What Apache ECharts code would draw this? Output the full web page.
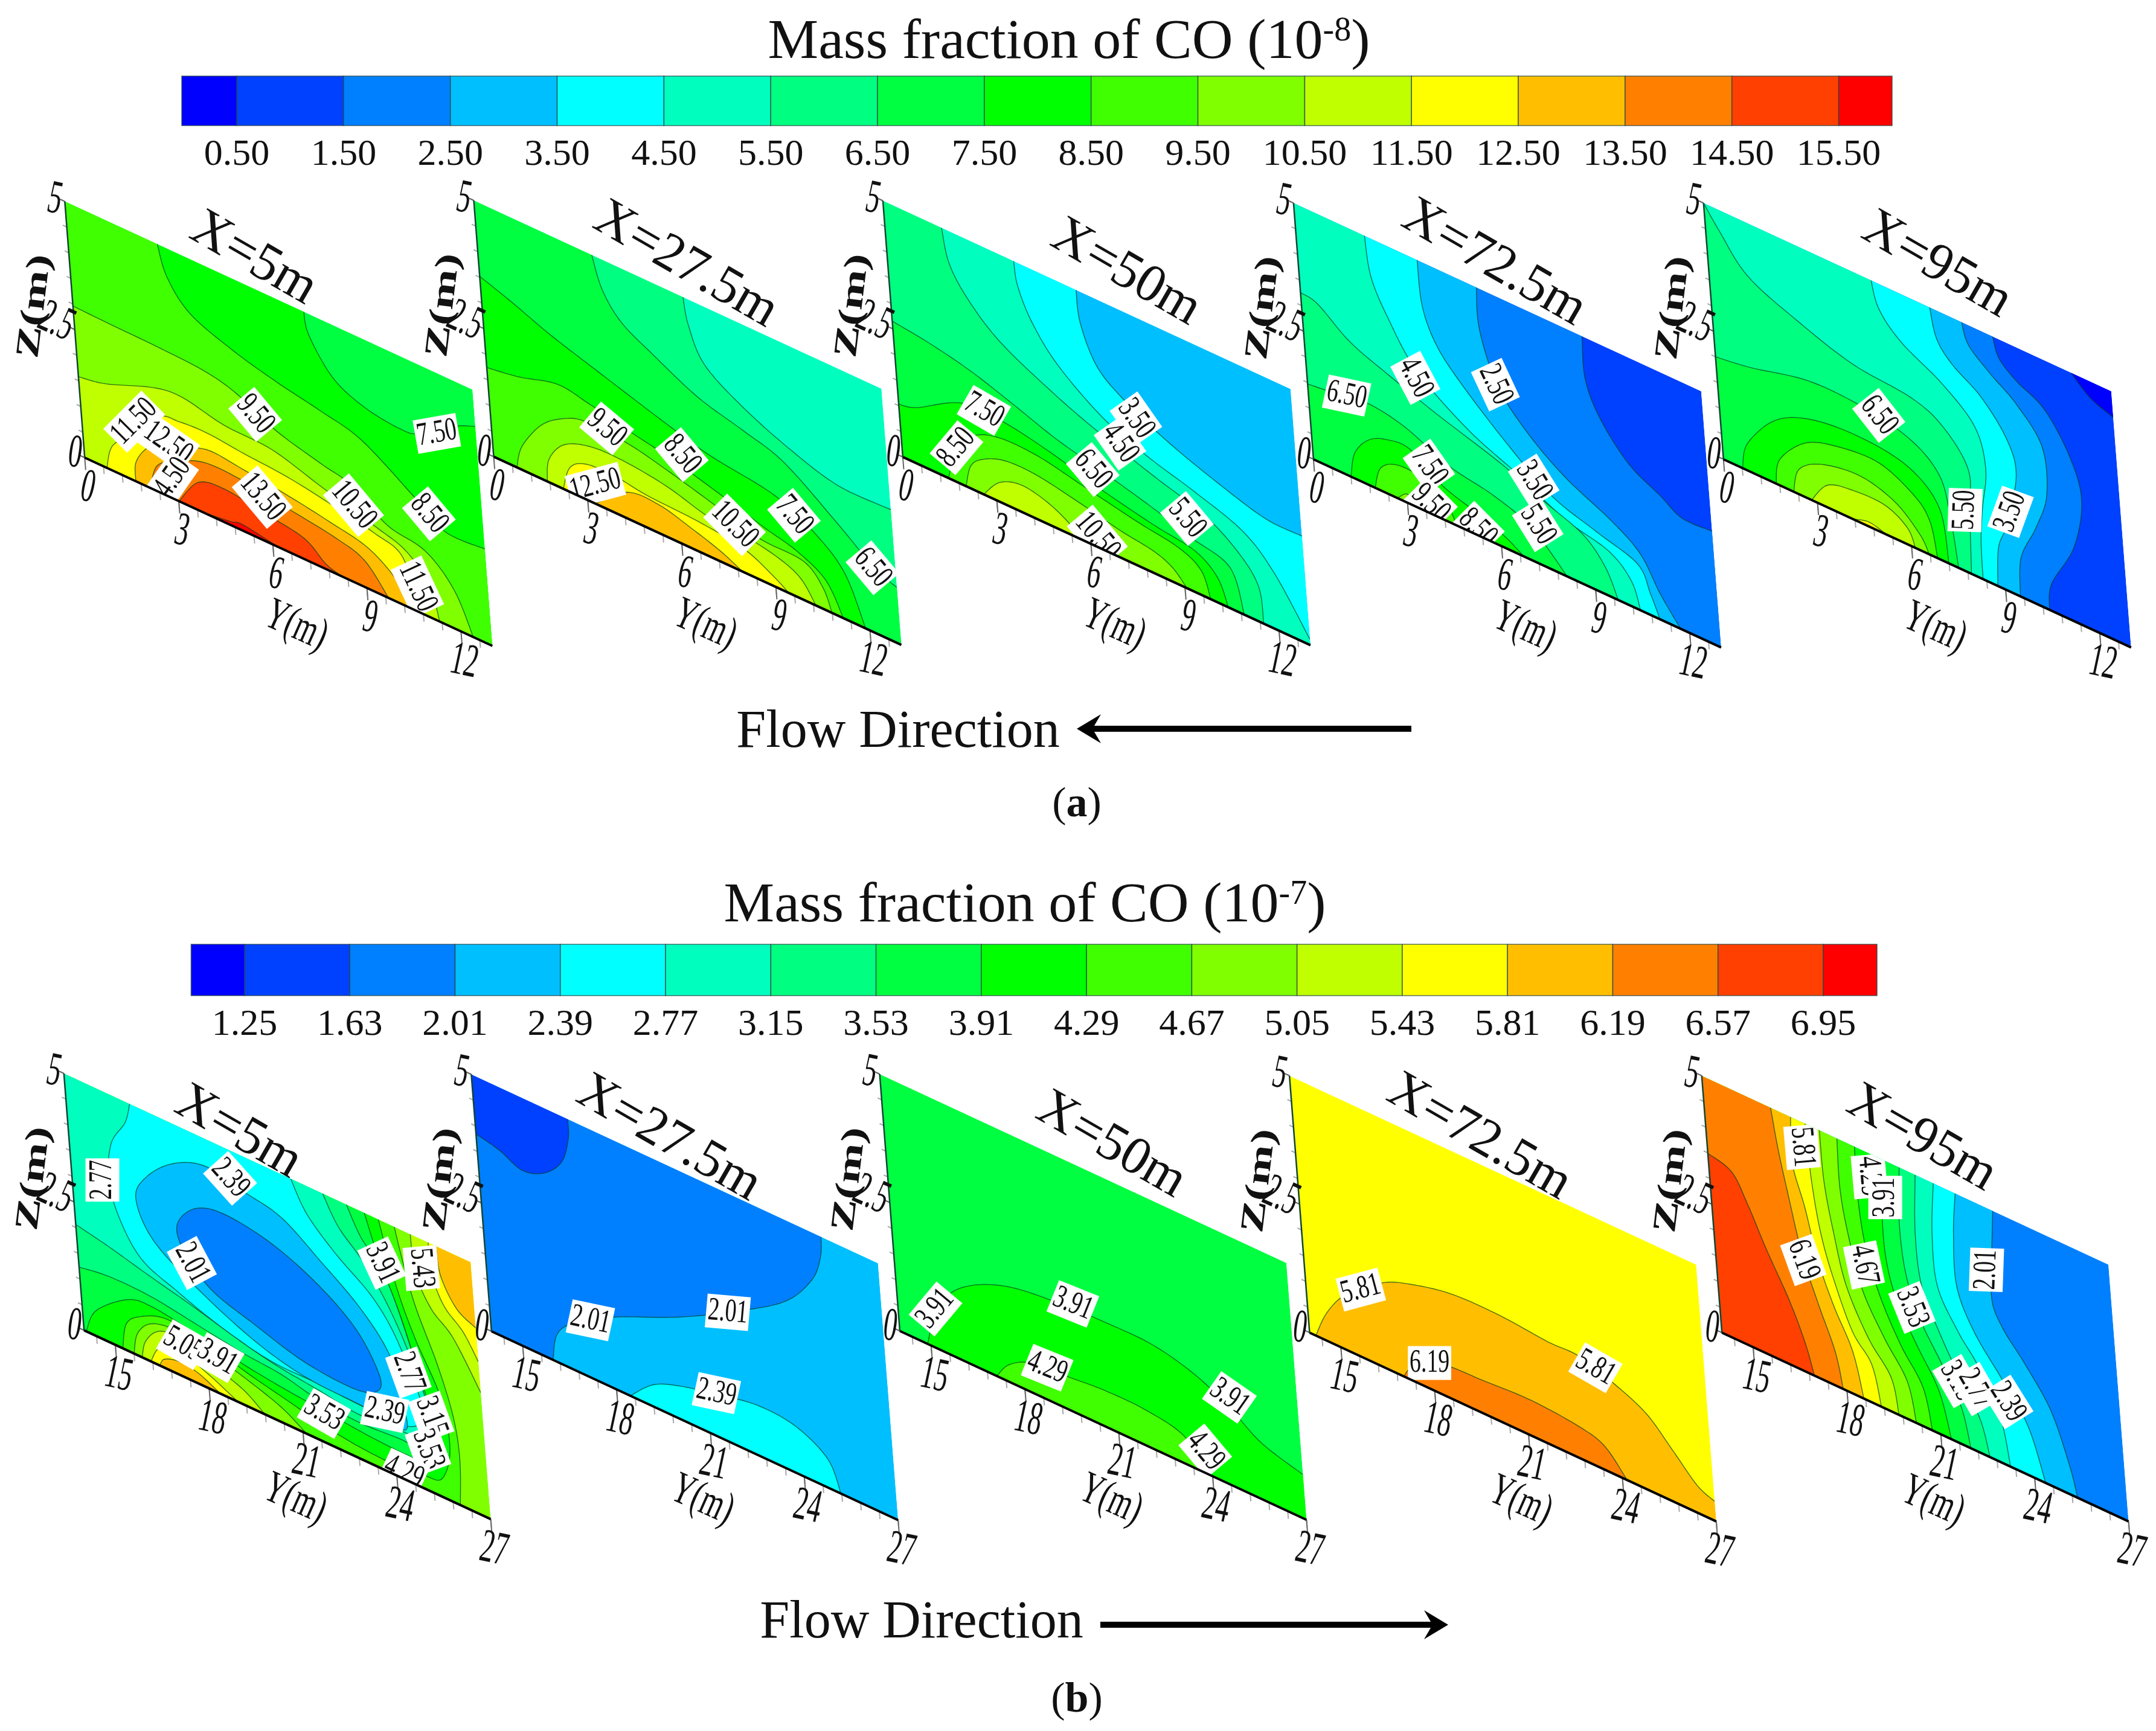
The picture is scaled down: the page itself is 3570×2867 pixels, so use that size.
<!DOCTYPE html>
<html>
<head>
<meta charset="utf-8">
<title>Mass fraction of CO</title>
<script src="https://cdn.jsdelivr.net/npm/echarts@6/dist/echarts.min.js"></script>
<style>
html,body{margin:0;padding:0;background:#fff}
#main{width:3570px;height:2867px}
</style>
</head>
<body>
<div id="main"></div>
<script>
// colour bands, same for both legends
const bandColors = ['#0000ff','#0040ff','#0080ff','#00bfff','#00ffff','#00ffbf','#00ff80','#00ff40','#00ff00','#40ff00','#80ff00','#bfff00','#ffff00','#ffbf00','#ff8000','#ff4000','#ff0000'];

// legend levels
const levelsA = [0.50,1.50,2.50,3.50,4.50,5.50,6.50,7.50,8.50,9.50,10.50,11.50,12.50,13.50,14.50,15.50];
const levelsB = [1.25,1.63,2.01,2.39,2.77,3.15,3.53,3.91,4.29,4.67,5.05,5.43,5.81,6.19,6.57,6.95];

// axis ticks
const yMajorA = [0,3,6,9,12];
const yMajorB = [15,18,21,24,27];
const yMinorA = [0.6,1.2,1.8,2.4,3,3.6,4.2,4.8,5.4,6,6.6,7.2,7.8,8.4,9,9.6,10.2,10.8,11.4,12,12.6];
const yMinorB = [14.4,15,15.6,16.2,16.8,17.4,18,18.6,19.2,19.8,20.4,21,21.6,22.2,22.8,23.4,24,24.6,25.2,25.8,26.4,27];
const zMajor = [0,2.5,5];
const zMinor = [0,0.5,1,1.5,2,2.5,3,3.5,4,4.5,5];

// panel corners in (Y,Z), (a) row and (b) row
const aBL=[[0,0]], aBR=[[13,0]], aTR=[[13,5]], aTL=[[0,5]];
const bBL=[[14,0]], bBR=[[27,0]], bTR=[[27,5]], bTL=[[14,5]];

// contour layers: [band, run, run, ...], runs in (Y,Z), painted in order
// (a) X=5m
const a1Layers = [
  [7, aBL, aBR, aTR, aTL],
  [8, [[7.62,5],[7.73,4.57],[8.42,3.93],[9.40,3.63],[10.51,3.53],[11.13,3.61],[12.31,4.09],[13,4.28]], aBR, aBL, aTL],
  [9, [[2.95,5],[3.18,4.43],[3.83,3.91],[5.10,3.57],[6.50,3.33],[7.91,3.15],[9.20,2.94],[10.76,2.30],[11.72,1.87],[13,1.89]], aBR, aBL, aTL],
  [10, [[0,2.96],[1.04,2.94],[2.78,2.92],[4.20,2.87],[5.20,2.71],[6.37,2.34],[7.77,2.09],[8.77,1.93],[9.83,1.46],[11.03,1.29],[11.88,0.77],[12.39,0]], aBL],
  [11, [[0,1.58],[0.88,1.69],[2.46,2.06],[3.39,2.13],[4.69,1.96],[6.22,1.91],[7.71,1.63],[9.50,1.31],[10.39,1.11],[11.06,0.66],[11.32,0]], aBL],
  [12, [[0.71,0],[0.87,0.40],[1.21,0.69],[2.50,1.50],[3.22,1.61],[4.14,1.64],[5.25,1.57],[6.68,1.50],[8.08,1.35],[9.38,1.18],[10.27,0.95],[10.61,0]]],
  [13, [[1.63,0],[1.68,0.38],[2.09,0.78],[2.75,1.12],[3.48,1.20],[4.20,1.31],[5.21,1.24],[6.63,1.13],[7.93,0.99],[9.14,0.82],[10.01,0.43],[10.40,0]]],
  [14, [[2.09,0],[2.37,0.51],[3.01,0.78],[3.96,1.02],[5.18,1.01],[6.59,0.87],[8.10,0.72],[9.00,0.53],[9.69,0]]],
  [15, [[3.01,0],[3.69,0.56],[4.53,0.67],[5.73,0.56],[7.04,0.42],[7.71,0.10],[8.26,0]]],
  [16, [[3.83,0],[4.65,0.07],[5.07,0.12],[6.17,0]]]
];
const a1Labels = [['9.50',5.75,2.47,50],['10.50',8.77,1.55,50],['13.50',5.77,0.86,50],['8.50',11.24,2.08,50],['7.50',11.71,3.78,-10],['11.50',1.73,1.19,-45],['12.50',2.79,1.07,35],['14.50',2.74,0.29,-55],['11.50',10.67,0.49,65]];

// (a) X=27.5m
const a2Layers = [
  [5, aBL, aBR, aTR, aTL],
  [6, [[6.67,5],[6.78,4.47],[7.21,3.83],[8.37,3.33],[9.85,2.91],[11.34,2.63],[13,2.64]], aBR, aBL, aTL],
  [7, [[3.76,5],[4.02,4.39],[4.57,3.91],[5.54,3.55],[6.91,3.11],[8.31,2.86],[9.60,2.59],[11.24,1.84],[12.29,1.31],[13,1.12]], aBR, aBL, aTL],
  [8, [[0,3.52],[1.02,3.29],[2.21,2.99],[3.80,2.67],[5.79,2.28],[7.19,2.04],[9.20,1.84],[10.47,1.43],[11.32,0.91],[11.86,0]], aBL],
  [9, [[0,1.74],[1.04,1.85],[2.29,2.06],[3.29,1.96],[4.49,1.79],[5.90,1.61],[7.30,1.37],[8.79,1.09],[9.79,0.92],[10.67,0.60],[11.15,0]], aBL],
  [10, [[0.74,0],[0.96,0.47],[1.65,1.08],[2.40,1.42],[3.14,1.57],[4.46,1.52],[5.67,1.35],[7.06,1.11],[8.56,0.83],[9.97,0.78],[10.55,0.43],[10.79,0]]],
  [11, [[1.71,0],[1.82,0.46],[2.34,0.89],[3.18,1.10],[4.21,1.13],[5.62,1.02],[7.02,0.78],[8.54,0.70],[9.73,0.46],[10.28,0]]],
  [12, [[2.22,0],[2.49,0.49],[3.03,0.71],[3.96,0.74],[4.96,0.65],[6.59,0.60],[8.00,0.48],[8.88,0.22],[9.41,0]]],
  [13, [[3.24,0],[4.33,0.53],[5.35,0.57],[6.35,0.40],[7.25,0.21],[7.94,0]]]
];
const a2Labels = [['9.50',3.81,1.63,40],['8.50',6.23,1.80,50],['7.50',9.78,1.62,50],['6.50',12.24,1.29,50],['10.50',7.79,0.87,45],['12.50',3.29,0.37,-15]];

// (a) X=50m
const a3Layers = [
  [3, aBL, aBR, aTR, aTL],
  [4, [[6.16,5],[6.21,4.38],[6.63,3.67],[7.39,3.25],[8.75,2.80],[10.34,2.42],[11.84,2.14],[13,2.13]], aBR, aBL, aTL],
  [5, [[4.17,5],[4.24,4.53],[4.62,3.93],[5.36,3.31],[6.70,2.67],[8.08,2.30],[9.57,2.02],[11.06,1.67],[12.00,1.11],[13,0.11]], aBR, aBL, aTL],
  [6, [[1.87,5],[2.03,4.35],[2.56,3.80],[3.51,3.24],[5.07,2.72],[6.46,2.35],[8.24,1.96],[9.83,1.64],[10.89,1.18],[11.44,0.69],[11.51,0]], aBL, aTL],
  [7, [[0,2.65],[1.18,2.55],[2.48,2.37],[3.77,2.10],[5.16,1.79],[6.76,1.54],[8.16,1.30],[9.35,1.06],[10.54,0.82],[10.89,0]], aBL],
  [8, [[0,1.03],[0.59,1.13],[2.08,1.64],[3.40,1.65],[4.91,1.47],[6.31,1.22],[8.12,0.97],[9.42,0.83],[10.10,0.50],[10.38,0]], aBL],
  [9, [[1.46,0],[1.80,0.69],[2.41,1.10],[3.26,1.29],[4.48,1.28],[5.88,1.10],[7.59,0.88],[8.90,0.74],[9.58,0.49],[9.82,0]]],
  [10, [[2.02,0],[2.23,0.46],[2.67,0.71],[3.40,0.88],[4.42,0.88],[5.83,0.71],[7.04,0.54],[8.05,0.44],[8.64,0.28],[9.06,0]]],
  [11, [[2.58,0],[3.14,0.39],[3.87,0.54],[4.77,0.41],[5.56,0.12],[5.79,0]]]
];
const a3Labels = [['7.50',2.80,1.70,30],['8.50',1.80,0.69,-50],['3.50',7.81,2.95,55],['4.50',7.22,2.31,55],['6.50',6.25,1.52,50],['5.50',9.24,1.41,50],['10.50',6.23,0.21,50]];

// (a) X=72.5m
const a4Layers = [
  [1, aBL, aBR, aTR, aTL],
  [2, [[9.20,5],[9.19,4.18],[9.57,3.52],[10.40,2.86],[11.38,2.50],[12.05,2.25],[13,2.27]], aBR, aBL, aTL],
  [3, [[5.83,5],[5.82,4.19],[6.26,3.23],[7.09,2.57],[8.25,2.00],[9.72,1.53],[10.58,1.13],[11.12,0.52],[11.71,0]], aBL, aTL],
  [4, [[3.94,5],[3.99,4.12],[4.36,3.46],[5.10,2.90],[6.43,2.13],[7.77,1.49],[9.16,1.18],[10.45,0.91],[10.80,0.43],[11.05,0]], aBL, aTL],
  [5, [[2.26,5],[2.37,4.23],[2.84,3.54],[3.65,2.75],[5.20,2.04],[6.77,1.59],[8.14,1.14],[9.53,0.90],[10.20,0.51],[10.43,0]], aBL, aTL],
  [6, [[0,3.25],[0.54,3.18],[1.50,2.72],[2.69,2.41],[4.18,2.07],[6.17,1.67],[7.54,1.30],[8.73,0.99],[9.38,0.54],[9.72,0]], aBL],
  [7, [[0,1.47],[0.64,1.52],[1.87,1.64],[3.09,1.51],[4.46,1.13],[5.86,0.95],[7.05,0.65],[8.09,0]], aBL],
  [8, [[1.20,0],[1.38,0.51],[1.88,0.91],[2.52,1.09],[3.23,1.10],[4.20,0.67],[5.49,0.40],[6.18,0.21],[6.71,0]]],
  [9, [[1.97,0],[2.17,0.42],[2.61,0.64],[3.28,0.67],[4.17,0.47],[4.57,0]]],
  [10, [[2.68,0],[3.01,0.17],[3.24,0]]]
];
const a4Labels = [['6.50',1.26,1.60,12],['4.50',3.58,2.60,62],['2.50',6.21,3.21,65],['7.50',3.80,0.94,55],['3.50',7.23,1.62,58],['5.50',7.25,0.77,58],['9.50',3.76,0.20,45],['8.50',5.25,0.14,45]];

// (a) X=95m
const a5Layers = [
  [1, aBL, aBR, aTR, aTL],
  [0, [[11.72,5],[12.29,4.67],[13,4.49]], aTR],
  [2, [[9.22,5],[9.37,4.62],[9.89,4.32],[10.77,3.99],[11.49,3.24],[11.74,2.48],[11.36,1.48],[10.53,0.54],[10.40,0]], aBL, aTL],
  [3, [[8.23,5],[8.40,4.60],[9.07,4.21],[9.83,3.85],[10.57,3.23],[10.60,2.29],[10.15,1.52],[9.59,0.79],[9.47,0]], aBL, aTL],
  [4, [[7.21,5],[7.36,4.43],[7.82,4.05],[8.69,3.66],[9.43,3.04],[9.64,2.40],[9.20,1.32],[8.87,0.78],[8.75,0]], aBL, aTL],
  [5, [[5.34,5],[5.53,4.49],[6.18,4.03],[7.45,3.56],[8.40,3.00],[8.65,2.25],[8.44,1.42],[8.31,0.75],[8.28,0]], aBL, aTL],
  [6, [[0,5],[0.45,4.58],[1.28,3.93],[2.85,3.48],[4.54,3.13],[6.36,3.00],[7.34,2.71],[8.07,2.08],[8.01,1.24],[7.91,0]], aBL],
  [7, [[0,2.00],[1.14,2.11],[3.01,2.38],[4.75,2.36],[6.25,2.14],[7.11,1.68],[7.36,0.93],[7.50,0]], aBL],
  [8, [[0.61,0],[0.84,0.55],[1.85,1.29],[3.12,1.64],[4.76,1.72],[6.17,1.55],[7.02,1.02],[7.19,0]]],
  [9, [[1.68,0],[1.86,0.52],[2.74,1.09],[3.79,1.32],[5.13,1.38],[6.21,1.05],[6.67,0.67],[6.83,0]]],
  [10, [[2.24,0],[2.47,0.50],[3.22,0.81],[4.46,0.94],[5.56,0.74],[6.31,0.31],[6.56,0]]],
  [11, [[2.81,0],[3.38,0.45],[4.21,0.58],[5.23,0.58],[5.91,0.33],[6.12,0]]],
  [12, [[4.13,0],[4.66,0.09],[5.20,0]]]
];
const a5Labels = [['6.50',5.25,2.34,52],['5.50',7.86,1.23,-88],['3.50',9.36,1.62,-70]];

// (b) X=5m
const b1Layers = [
  [10, bBL, bBR, bTR, bTL],
  [11, [[25.07,5],[25.14,4.27],[25.57,3.69],[26.23,3.30],[27,2.46]], bTR],
  [12, [[25.64,5],[25.66,4.42],[26.00,3.87],[26.57,3.52],[27,3.06]], bTR],
  [13, [[25.89,5],[25.97,4.44],[26.41,3.93],[27,3.72]], bTR],
  [9, bBL, [[15.60,0],[15.76,0.43],[16.21,0.75],[16.94,0.86],[17.95,0.77],[19.14,0.56],[20.33,0.30],[21.11,0]], [[26.03,0],[26.13,0.92],[26.02,1.72],[25.63,2.62],[25.05,3.60],[24.74,4.41],[24.56,5]], bTL],
  [8, bBL, [[15.24,0],[15.42,0.53],[15.92,0.81],[16.75,1.00],[17.97,0.90],[19.36,0.66],[20.56,0.49],[21.76,0.32],[22.98,0.22],[24.25,0.20],[24.91,0.26],[25.49,0.36],[25.83,1.03],[25.65,1.99],[24.96,2.94],[24.47,3.82],[24.05,5]], bTL],
  [7, bBL, [[14.07,0],[14.45,0.51],[15.53,1.03],[16.35,1.11],[17.77,0.97],[19.37,0.79],[20.59,0.69],[21.80,0.62],[23.12,0.54],[24.34,0.51],[25.06,0.55],[25.40,0.84],[25.37,1.41],[24.98,2.31],[24.50,3.32],[24.00,4.13],[23.60,5]], bTL],
  [6, [[14,1.23],[14.96,1.32],[16.28,1.31],[17.79,1.17],[19.20,1.03],[20.41,0.96],[21.62,0.79],[22.93,0.72],[24.27,0.77],[24.97,0.72],[25.16,0.96],[25.12,1.84],[24.66,2.99],[24.08,3.97],[23.42,4.48],[23.03,5]], bTL],
  [5, [[14,2.06],[15.04,1.92],[16.33,1.71],[17.64,1.51],[19.04,1.27],[20.23,1.10],[21.65,0.99],[22.85,0.88],[24.29,0.94],[24.87,1.04],[25.20,1.61],[24.80,2.45],[24.19,3.30],[23.47,3.98],[22.71,4.47],[22.27,5]], bTL],
  [4, [[16.10,5],[15.90,4.58],[15.36,3.98],[15.24,3.05],[15.97,2.05],[17.24,1.65],[18.63,1.34],[20.14,1.13],[21.67,1.12],[22.98,1.08],[24.51,1.10],[25.03,1.56],[24.42,2.66],[23.69,3.35],[22.54,3.91],[21.69,4.44],[21.25,5]]],
  [3, [[17.38,4.20],[18.43,4.45],[19.63,4.30],[20.83,4.13],[21.99,3.63],[23.23,3.03],[24.07,2.37],[24.33,1.62],[24.40,1.00],[23.09,1.08],[21.26,1.13],[19.66,1.38],[17.89,1.90],[16.53,2.47],[16.06,3.16],[16.49,3.70],[17.38,4.20]]],
  [2, [[18.00,3.50],[18.94,3.66],[20.45,3.51],[21.92,3.10],[23.07,2.54],[23.70,1.82],[23.49,1.48],[22.72,1.35],[21.20,1.43],[19.70,1.71],[18.31,2.02],[17.51,2.55],[17.37,3.02],[18.00,3.50]]],
  [11, [[15.86,0],[16.00,0.34],[16.40,0.65],[16.92,0.73],[18.02,0.53],[19.11,0.30],[19.78,0]]],
  [12, [[16.14,0],[16.36,0.28],[16.68,0.47],[17.39,0.42],[18.08,0.26],[18.92,0]]],
  [13, [[16.42,0],[16.59,0.17],[17.06,0.26],[17.67,0.21],[18.36,0]]]
];
const b1Labels = [['2.77',15.00,3.21,-90],['2.39',19.24,4.44,48],['2.01',17.75,2.37,62],['3.91',24.05,4.15,65],['5.43',25.35,4.42,85],['2.77',24.65,2.19,70],['3.15',25.29,1.51,70],['3.53',25.10,0.82,70],['5.05',17.25,0.64,30],['3.91',18.35,0.70,30],['3.53',21.74,0.57,30],['2.39',23.76,1.17,12],['4.29',24.24,0.13,25]];

// (b) X=27.5m
const b2Layers = [
  [3, bBL, bBR, bTR, bTL],
  [2, [[15.97,0],[16.16,0.54],[16.72,0.92],[18.12,1.44],[20.24,2.04],[22.37,2.77],[23.88,3.39],[24.78,4.06],[25.11,4.59],[25.18,5]], bTL, bBL],
  [1, [[14,3.84],[14.74,3.73],[15.43,3.54],[16.16,3.69],[16.77,4.08],[17.05,4.61],[17.08,5]], bTL],
  [4, [[18.44,0],[19.21,0.43],[20.05,0.65],[21.30,0.84],[22.65,1.00],[23.86,0.93],[24.83,0.57],[25.17,0]]]
];
const b2Labels = [['2.01',17.31,1.15,12],['2.01',21.89,2.60,5],['2.39',21.30,0.86,12]];

// (b) X=50m
const b3Layers = [
  [7, bBL, bBR, bTR, bTL],
  [8, [[14.89,0],[15.23,0.71],[15.81,1.26],[16.69,1.66],[17.84,1.93],[19.29,2.05],[20.82,2.10],[22.35,2.09],[23.65,1.89],[24.73,1.55],[25.70,1.13],[27,0.88]], bBR],
  [9, [[17.10,0],[17.53,0.34],[18.28,0.59],[19.40,0.65],[20.64,0.72],[21.96,0.71],[23.17,0.54],[23.81,0]]]
];
const b3Labels = [['3.91',15.24,0.78,-50],['3.91',19.81,2.17,22],['3.91',24.76,1.75,35],['4.29',18.79,0.64,22],['4.29',23.82,0.44,50]];

// (b) X=72.5m
const b4Layers = [
  [12, bBL, bBR, bTR, bTL],
  [13, [[14.20,0],[14.63,0.57],[15.32,1.12],[16.52,1.68],[17.46,1.92],[18.81,2.11],[20.35,2.13],[21.87,2.05],[22.89,2.05],[23.98,1.82],[24.96,1.52],[25.72,1.04],[26.46,0.55],[27,0.39]], bBR],
  [14, [[17.01,0],[17.36,0.29],[18.31,0.60],[19.65,0.66],[21.18,0.71],[22.70,0.63],[23.50,0.47],[24.15,0]]]
];
const b4Labels = [['5.81',15.81,1.35,-15],['6.19',17.90,0.51,0],['5.81',23.39,1.97,30]];

// (b) X=95m
const b5Layers = [
  [2, bBL, bBR, bTR, bTL],
  [3, [[23.30,5],[23.16,4.13],[23.04,3.21],[23.33,2.72],[23.98,2.20],[24.71,1.51],[25.19,0.57],[25.37,0]], bBL, bTL],
  [4, [[22.10,5],[21.94,4.17],[21.91,3.14],[22.37,2.38],[23.20,1.66],[23.92,0.97],[24.35,0]], bBL, bTL],
  [5, [[21.40,5],[21.23,3.97],[21.27,2.96],[21.84,2.23],[22.39,1.75],[23.00,0.97],[23.23,0]], bBL, bTL],
  [6, [[20.82,5],[20.67,3.81],[20.75,2.81],[21.21,2.05],[21.82,1.27],[22.35,0.66],[22.57,0]], bBL, bTL],
  [7, [[20.31,5],[20.17,3.92],[20.25,2.93],[20.60,2.14],[21.22,1.42],[21.75,0.74],[21.96,0]], bBL, bTL],
  [8, [[19.85,5],[19.63,3.90],[19.64,3.01],[19.90,2.26],[20.43,1.58],[21.05,0.86],[21.34,0]], bBL, bTL],
  [9, [[18.88,5],[18.86,4.00],[18.99,3.08],[19.34,2.22],[19.90,1.43],[20.53,0.78],[20.73,0]], bBL, bTL],
  [10, [[18.32,5],[18.29,4.03],[18.44,3.18],[18.77,2.19],[19.38,1.41],[20.02,0.76],[20.22,0]], bBL, bTL],
  [11, [[17.76,5],[17.78,4.01],[17.97,3.05],[18.25,2.11],[18.85,1.26],[19.50,0.68],[19.66,0]], bBL, bTL],
  [12, [[17.30,5],[17.37,3.89],[17.54,2.93],[17.85,2.12],[18.34,1.24],[18.89,0.76],[19.10,0]], bBL, bTL],
  [13, [[16.84,5],[16.77,4.11],[17.08,3.30],[17.37,2.37],[17.78,1.59],[18.29,0.85],[18.54,0]], bBL, bTL],
  [14, [[16.20,5],[16.34,4.24],[16.54,3.47],[16.86,2.35],[17.26,1.51],[17.71,0.68],[17.88,0]], bBL, bTL],
  [15, [[14,3.49],[14.74,3.34],[15.19,2.83],[15.70,2.09],[16.31,1.30],[16.73,0.59],[16.96,0]], bBL]
];
const b5Labels = [['5.81',17.14,4.50,85],['4.29',19.30,4.54,85],['3.91',19.77,4.26,-90],['6.19',16.89,2.23,70],['4.67',18.89,2.70,78],['2.01',22.94,3.75,-88],['3.53',20.37,2.29,68],['3.15',21.69,1.23,60],['2.77',22.27,1.24,60],['2.39',23.30,1.28,58]];

// panel placement
const aRow = {ymin:0, ymax:13, w:675, h:424.4, sx:-33/424.4, sy:311.7/675, yMajor:yMajorA, yMinor:yMinorA};
const bRow = {ymin:14, ymax:27, w:673.4, h:425.5, sx:-33.4/425.5, sy:312.7/673.4, yMajor:yMajorB, yMinor:yMinorB};
const panels = [
  {row:aRow, x0:140.3, y0:758, layers:a1Layers, labels:a1Labels, title:['X=5m',6.09,5.60]},
  {row:aRow, x0:817.5, y0:756.4, layers:a2Layers, labels:a2Labels, title:['X=27.5m',6.84,5.67]},
  {row:aRow, x0:1494.9, y0:756.9, layers:a3Layers, labels:a3Labels, title:['X=50m',7.85,5.81]},
  {row:aRow, x0:2174.9, y0:760.7, layers:a4Layers, labels:a4Labels, title:['X=72.5m',6.47,5.65]},
  {row:aRow, x0:2853.8, y0:760.7, layers:a5Layers, labels:a5Labels, title:['X=95m',7.55,5.92]},
  {row:bRow, x0:139.2, y0:2203.4, layers:b1Layers, labels:b1Labels, title:['X=5m',19.63,5.44]},
  {row:bRow, x0:813.8, y0:2205, layers:b2Layers, labels:b2Labels, title:['X=27.5m',20.38,5.55]},
  {row:bRow, x0:1490, y0:2204.5, layers:b3Layers, labels:b3Labels, title:['X=50m',21.49,5.73]},
  {row:bRow, x0:2168.5, y0:2207.2, layers:b4Layers, labels:b4Labels, title:['X=72.5m',20.13,5.53]},
  {row:bRow, x0:2851.2, y0:2207.2, layers:b5Layers, labels:b5Labels, title:['X=95m',21.13,5.79]}
];

const serif = '"Liberation Serif","Times New Roman",serif';
const grids = [], xAxes = [], yAxes = [], series = [];

// the axes are plain cartesian, the shear to the slanted plane happens here
function project(api, p, panel) {
  const c = api.coord(p);
  return [c[0] + (panel.y0 - c[1]) * panel.row.sx, c[1] + (c[0] - panel.x0) * panel.row.sy];
}

// catmull-rom through the read points, in pixels
function smooth(pts) {
  const out = [], n = pts.length;
  const closed = pts[0][0] === pts[n-1][0] && pts[0][1] === pts[n-1][1];
  for (let i = 0; i < n - 1; i++) {
    const p0 = pts[i > 0 ? i - 1 : (closed ? n - 2 : 0)], p1 = pts[i], p2 = pts[i + 1];
    const p3 = pts[i + 2 < n ? i + 2 : (closed ? 1 : n - 1)];
    for (let k = 0; k < 10; k++) {
      const t = k / 10, t2 = t * t, t3 = t2 * t;
      out.push([
        0.5 * (2*p1[0] + (p2[0]-p0[0])*t + (2*p0[0]-5*p1[0]+4*p2[0]-p3[0])*t2 + (3*p1[0]-p0[0]-3*p2[0]+p3[0])*t3),
        0.5 * (2*p1[1] + (p2[1]-p0[1])*t + (2*p0[1]-5*p1[1]+4*p2[1]-p3[1])*t2 + (3*p1[1]-p0[1]-3*p2[1]+p3[1])*t3)
      ]);
    }
  }
  out.push(pts[n-1]);
  return out;
}

function clipOf(api, panel) {
  const r = panel.row;
  return {type:'polygon', shape:{points:[[r.ymin,0],[r.ymax,0],[r.ymax,5],[r.ymin,5]].map(p => project(api, p, panel))}};
}

// deg: counter-clockwise on screen
function textEl(x, y, text, deg, size, opt) {
  opt = opt || {};
  return {
    type:'text', x:x, y:y, rotation:deg*Math.PI/180, scaleX:opt.sx||1, scaleY:opt.sy||1,
    style:{
      text:text, fill:opt.color||'#111', align:'center', verticalAlign:'middle',
      textAlign:'center', textVerticalAlign:'middle',
      font:(opt.bold?'bold ':'')+size+'px '+serif,
      backgroundColor:opt.bg, padding:opt.bg?[2,4,0,4]:0
    }
  };
}

function layerRender(panel) {
  return function (params, api) {
    const layer = panel.layers[params.dataIndex];
    let ring = [];
    const lines = [];
    layer.slice(1).forEach(run => {
      const px = run.map(p => project(api, p, panel));
      if (px.length >= 3) {
        const s = smooth(px);
        ring = ring.concat(s);
        lines.push({type:'polyline', shape:{points:s}, style:{fill:'none', stroke:'rgba(0,60,30,0.7)', lineWidth:1.4}});
      } else {
        ring = ring.concat(px);
      }
    });
    return {
      type:'group',
      clipPath:clipOf(api, panel),
      children:[{type:'polygon', shape:{points:ring}, style:{fill:bandColors[layer[0]]}}].concat(lines)
    };
  };
}

function labelRender(panel) {
  return function (params, api) {
    const l = panel.labels[params.dataIndex];
    const p = project(api, [l[1], l[2]], panel);
    return {
      type:'group',
      clipPath:clipOf(api, panel),
      children:[textEl(p[0], p[1], l[0], -l[3], 54, {sx:0.7, bg:'#fff'})]
    };
  };
}

function frameRender(panel) {
  const r = panel.row;
  return function (params, api) {
    const kids = [];
    const line = (a, b, color, w) => {
      const p = project(api, a, panel), q = project(api, b, panel);
      kids.push({type:'line', shape:{x1:p[0], y1:p[1], x2:q[0], y2:q[1]}, style:{stroke:color, lineWidth:w}});
    };
    r.yMinor.forEach(v => line([v,0], [v,-0.15], '#a8a8a8', 2));
    r.yMajor.forEach(v => line([v,0], [v,-0.24], '#666', 2));
    zMinor.forEach(v => line([r.ymin,v], [r.ymin-0.13,v], '#a8a8a8', 2));
    zMajor.forEach(v => line([r.ymin,v], [r.ymin-0.2,v], '#666', 2));
    line([r.ymin,0], [r.ymax,0], '#000', 4);
    line([r.ymin,0], [r.ymin,5], '#143', 2.5);

    r.yMajor.forEach(v => {
      const p = project(api, [v+0.02,-0.6], panel);
      kids.push(textEl(p[0], p[1], String(v), -12, 78, {sx:0.58}));
    });
    const z5 = project(api, [r.ymin-0.33,4.93], panel);
    kids.push(textEl(z5[0], z5[1], '5', -12, 78, {sx:0.58}));
    const z25 = project(api, [r.ymin-0.6,2.47], panel);
    kids.push(textEl(z25[0], z25[1], '2.5', -24, 78, {sx:0.58}));
    const z0 = project(api, [r.ymin-0.31,-0.02], panel);
    kids.push(textEl(z0[0], z0[1], '0', -8, 78, {sx:0.58}));

    const zt = project(api, [r.ymin-1.25,2.6], panel);
    kids.push(textEl(zt[0], zt[1], 'Z(m)', 83, 80, {bold:true, sy:0.68}));
    const yt = project(api, [r.ymin+6.55,-1.44], panel);
    kids.push(textEl(yt[0], yt[1], 'Y(m)', -24, 74, {sx:0.66}));
    const tt = project(api, [panel.title[1], panel.title[2]], panel);
    kids.push(textEl(tt[0], tt[1], panel.title[0], -30, 88));
    return {type:'group', children:kids};
  };
}

panels.forEach((panel, i) => {
  const r = panel.row;
  grids.push({left:panel.x0, top:panel.y0 - r.h, width:r.w, height:r.h, show:false});
  xAxes.push({type:'value', gridIndex:i, min:r.ymin, max:r.ymax, show:false});
  yAxes.push({type:'value', gridIndex:i, min:0, max:5, show:false});
  const base = {type:'custom', xAxisIndex:i, yAxisIndex:i, coordinateSystem:'cartesian2d', silent:true, animation:false, clip:false};
  series.push(Object.assign({}, base, {z:2, renderItem:layerRender(panel), data:panel.layers.map(l => l[1][0])}));
  series.push(Object.assign({}, base, {z:4, renderItem:frameRender(panel), data:[[r.ymin,0]]}));
  series.push(Object.assign({}, base, {z:3, renderItem:labelRender(panel), data:panel.labels.map(l => [l[1], l[2]])}));
});

// colour bars
function addBar(levels, axisMin, axisMax, left, top, width, height) {
  const i = grids.length;
  const edges = [axisMin].concat(levels, [axisMax]);
  grids.push({left:left, top:top, width:width, height:height, show:false});
  xAxes.push({
    type:'value', gridIndex:i, min:axisMin, max:axisMax,
    axisLine:{show:false}, axisTick:{show:false}, splitLine:{show:false},
    axisLabel:{customValues:levels, margin:18, color:'#111', fontFamily:serif, fontSize:62, formatter:v => v.toFixed(2)}
  });
  yAxes.push({type:'value', gridIndex:i, min:0, max:1, show:false});
  series.push({
    type:'custom', xAxisIndex:i, yAxisIndex:i, silent:true, animation:false, z:2,
    data:bandColors.map((c, k) => [edges[k], edges[k+1], k]),
    encode:{x:[0,1]},
    renderItem:(params, api) => {
      const a = api.coord([api.value(0), 1]), b = api.coord([api.value(1), 0]);
      return {type:'rect', shape:{x:a[0], y:a[1], width:b[0]-a[0], height:b[1]-a[1]},
        style:{fill:bandColors[api.value(2)], stroke:'rgba(40,70,70,0.75)', lineWidth:1.6}};
    }
  });
}
addBar(levelsA, -0.015, 16.0, 301, 126, 2832, 82);
addBar(levelsB, 1.057, 7.144, 316.5, 1564, 2791.5, 85);

const mainTitle = sup => ({
  text:'Mass fraction of CO (10{sup|'+sup+'})',
  textStyle:{color:'#111', fontFamily:serif, fontSize:94, fontWeight:'normal',
    rich:{sup:{fontFamily:serif, fontSize:56, verticalAlign:'top', color:'#111', lineHeight:94}}},
  textAlign:'center', textVerticalAlign:'middle'
});

function arrow(x1, x2, y, dir) {
  const tip = x2, back = x2 - dir*40;
  return [
    {type:'line', shape:{x1:x1, y1:y, x2:x2 - dir*12, y2:y}, style:{stroke:'#000', lineWidth:10}},
    {type:'polygon', shape:{points:[[tip,y],[back,y-24],[back+dir*14,y],[back,y+24]]}, style:{fill:'#000'}}
  ];
}
const bigText = (x, y, text, size) => ({
  type:'text', x:x, y:y,
  style:{text:text, fill:'#111', font:size+'px '+serif, align:'center', verticalAlign:'middle', textAlign:'center', textVerticalAlign:'middle',
    rich:{b:{font:'bold '+size+'px '+serif, fill:'#111'}}}
});

const chart = echarts.init(document.getElementById('main'), null, {renderer:'canvas'});
chart.setOption({
  backgroundColor:'#fff',
  animation:false,
  title:[
    Object.assign(mainTitle('-8'), {left:1765, top:66}),
    Object.assign(mainTitle('-7'), {left:1692, top:1496})
  ],
  grid:grids,
  xAxis:xAxes,
  yAxis:yAxes,
  series:series,
  graphic:[
    bigText(1487, 1214, 'Flow Direction', 88),
    bigText(1526, 2689, 'Flow Direction', 88),
    bigText(1783, 1334, '({b|a})', 70),
    bigText(1783, 2817, '({b|b})', 70)
  ].concat(arrow(2337, 1783, 1207, -1), arrow(1822, 2398, 2691, 1))
});
</script>
</body>
</html>
